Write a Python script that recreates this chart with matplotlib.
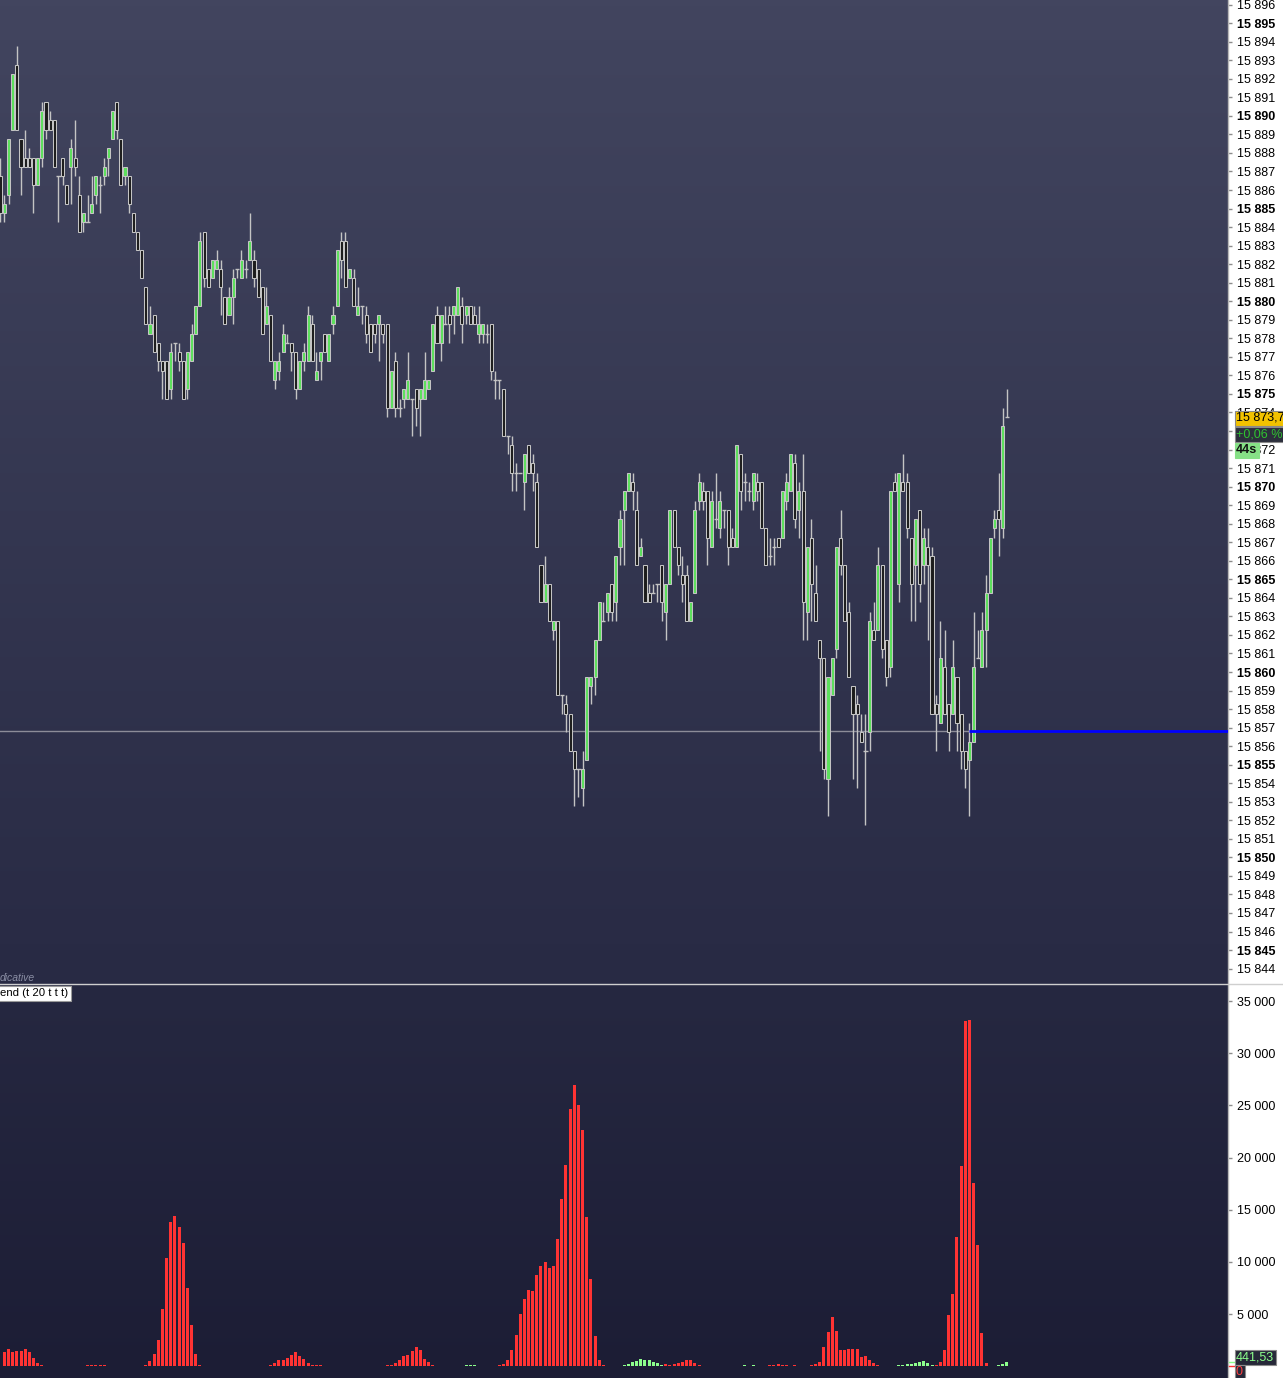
import numpy as np
import matplotlib
matplotlib.use("Agg")
import matplotlib.pyplot as plt
from matplotlib.colors import LinearSegmentedColormap
from matplotlib.patches import Rectangle
from matplotlib.lines import Line2D

# ---------------- data ----------------
opens = [
 15886.75,15884.75,15885.75,15889.25,15892.75,15888.75,15887.75,15887.75,15887.75,15886.25,
 15887.75,15890.75,15889.75,15889.75,15886.75,15887.75,15886.25,15887.25,15887.75,15885.75,
 15884.25,15884.25,15884.75,15885.75,15886.25,15886.75,15887.75,15888.75,15890.75,15888.75,
 15886.75,15886.75,15884.75,15883.75,15882.75,15880.75,15878.25,15879.25,15877.75,15876.75,
 15876.75,15875.25,15877.75,15877.25,15876.75,15875.25,15876.75,15878.25,15879.75,15883.75,
 15881.75,15881.25,15881.75,15881.75,15880.25,15879.25,15880.25,15881.75,15881.25,15881.75,
 15882.25,15882.25,15881.75,15880.75,15878.75,15879.25,15875.75,15876.25,15877.25,15877.75,
 15877.75,15877.25,15875.25,15876.75,15876.75,15878.75,15875.75,15876.75,15878.25,15876.75,
 15878.75,15879.75,15883.25,15883.25,15881.25,15881.25,15879.25,15879.75,15879.25,15878.75,
 15878.75,15878.75,15878.75,15878.75,15874.25,15876.75,15874.25,15874.75,15874.75,15874.75,
 15875.25,15874.75,15874.75,15875.25,15876.25,15879.25,15877.75,15878.75,15879.25,15879.25,
 15879.25,15879.75,15879.25,15879.75,15879.25,15878.25,15878.25,15878.25,15878.75,15875.75,
 15875.75,15875.25,15872.75,15872.25,15870.75,15870.75,15870.25,15872.25,15871.25,15870.25,
 15865.75,15863.75,15864.75,15862.25,15862.75,15858.75,15858.25,15857.75,15855.75,15854.75,
 15853.75,15855.25,15859.25,15859.75,15861.75,15862.75,15863.25,15864.75,15863.75,15866.75,
 15868.75,15869.75,15870.25,15868.75,15866.25,15865.75,15864.25,15864.25,15864.75,15865.75,
 15863.25,15864.75,15868.75,15866.75,15865.25,15865.25,15862.75,15864.25,15869.25,15869.75,
 15869.75,15866.75,15868.25,15867.75,15868.75,15868.75,15867.25,15866.75,15871.75,15870.25,
 15869.75,15869.25,15870.25,15870.25,15867.75,15866.25,15866.75,15867.25,15867.25,15869.25,
 15869.75,15871.25,15868.75,15869.75,15863.25,15867.25,15864.25,15861.75,15860.75,15854.25,
 15858.75,15861.25,15867.25,15865.75,15863.25,15859.25,15858.25,15856.75,15855.75,15856.75,
 15862.25,15862.25,15865.75,15861.75,15860.25,15870.25,15864.75,15870.25,15870.25,15867.25,
 15865.75,15868.75,15865.75,15866.75,15866.25,15858.25,15857.25,15860.25,15858.25,15857.75,
 15859.75,15857.75,15855.75,15855.25,15856.25,15860.75,15860.25,15862.25,15864.25,15867.75,
 15868.75,15867.75,15873.75]

highs = [
 15887.75,15885.75,15888.75,15892.25,15893.75,15888.75,15889.25,15888.25,15887.75,15887.75,
 15890.75,15890.75,15890.25,15889.75,15886.75,15887.75,15886.25,15888.75,15889.75,15886.75,
 15884.75,15885.75,15886.75,15886.75,15886.75,15887.75,15888.25,15890.25,15890.75,15888.75,
 15887.25,15886.75,15884.75,15883.75,15882.75,15880.75,15879.75,15879.25,15877.75,15876.75,
 15876.75,15877.75,15877.75,15877.75,15876.75,15877.25,15878.75,15879.75,15883.75,15883.75,
 15881.75,15882.25,15882.75,15882.25,15880.25,15880.75,15881.75,15881.75,15882.75,15882.25,
 15884.75,15882.75,15881.75,15880.75,15880.75,15879.25,15876.75,15877.25,15878.75,15878.25,
 15877.75,15877.25,15876.75,15877.75,15879.75,15879.25,15877.25,15877.25,15878.25,15878.25,
 15879.75,15882.75,15883.75,15883.75,15881.75,15881.75,15880.75,15879.75,15879.75,15878.75,
 15878.75,15879.25,15878.75,15878.75,15876.25,15877.25,15874.75,15875.25,15877.25,15874.75,
 15875.25,15875.25,15877.25,15875.75,15878.75,15879.75,15879.25,15879.75,15879.75,15879.75,
 15880.75,15880.25,15879.75,15879.75,15879.75,15879.75,15878.75,15878.75,15878.75,15876.25,
 15875.75,15875.25,15872.75,15872.75,15871.25,15870.75,15871.75,15872.25,15871.75,15870.75,
 15865.75,15866.25,15864.75,15862.75,15862.75,15858.75,15858.75,15857.75,15855.75,15854.75,
 15855.75,15859.75,15859.75,15861.75,15863.75,15863.75,15864.25,15864.75,15866.25,15868.75,
 15869.75,15870.75,15870.75,15869.75,15867.25,15865.75,15864.75,15864.75,15864.75,15865.75,
 15864.75,15868.75,15868.75,15866.75,15866.25,15865.75,15863.75,15869.25,15870.75,15870.25,
 15869.75,15869.75,15870.75,15869.75,15868.75,15868.75,15867.75,15872.25,15871.75,15870.75,
 15870.25,15870.75,15870.75,15870.25,15867.75,15867.25,15867.25,15867.25,15869.75,15870.75,
 15871.75,15871.75,15870.25,15871.75,15866.75,15868.25,15865.75,15861.75,15860.75,15859.75,
 15860.75,15866.75,15868.75,15865.75,15863.75,15859.25,15858.75,15857.75,15857.75,15863.25,
 15863.75,15866.75,15865.75,15861.75,15869.75,15870.75,15870.75,15871.75,15870.75,15867.25,
 15868.25,15868.75,15867.75,15867.75,15866.75,15858.75,15862.75,15862.25,15858.25,15861.75,
 15859.75,15857.75,15855.75,15857.25,15863.25,15862.25,15863.25,15865.25,15867.25,15868.75,
 15870.75,15874.25,15875.25]

lows = [
 15884.25,15884.25,15885.25,15889.25,15889.25,15885.75,15887.25,15887.25,15884.75,15886.25,
 15887.25,15888.75,15889.25,15887.25,15884.25,15886.25,15885.25,15885.25,15886.75,15883.75,
 15883.75,15884.25,15884.75,15885.25,15884.75,15886.25,15886.75,15888.75,15888.75,15886.25,
 15886.25,15884.75,15883.75,15882.75,15881.25,15878.75,15878.25,15877.25,15876.25,15874.75,
 15874.75,15874.75,15876.75,15876.25,15874.75,15874.75,15876.75,15878.25,15879.75,15880.75,
 15880.75,15881.25,15881.75,15879.25,15878.75,15879.25,15878.75,15881.25,15881.25,15881.25,
 15882.25,15880.75,15880.25,15878.25,15878.75,15876.75,15875.25,15875.75,15877.25,15877.75,
 15876.25,15874.75,15875.25,15876.25,15876.75,15876.75,15875.75,15875.75,15877.25,15876.75,
 15878.25,15879.75,15881.25,15880.75,15881.25,15879.75,15879.25,15878.75,15877.75,15877.25,
 15877.75,15876.75,15877.75,15873.75,15874.25,15873.75,15873.75,15874.25,15874.75,15872.75,
 15873.25,15872.75,15874.75,15875.25,15876.25,15877.75,15876.75,15878.75,15877.75,15878.25,
 15879.25,15877.75,15878.75,15878.75,15878.75,15877.75,15877.75,15877.75,15875.75,15874.75,
 15874.75,15872.75,15871.75,15869.75,15869.75,15870.75,15868.75,15870.75,15869.75,15866.75,
 15863.75,15863.75,15862.75,15861.75,15858.75,15857.75,15856.75,15855.75,15852.75,15853.25,
 15852.75,15855.25,15858.25,15858.75,15861.75,15862.75,15862.75,15862.75,15862.75,15865.75,
 15865.75,15869.75,15868.75,15865.75,15866.25,15863.75,15863.75,15864.25,15863.75,15862.75,
 15861.75,15864.75,15866.75,15865.25,15863.75,15862.75,15862.75,15864.25,15868.75,15868.75,
 15865.75,15866.75,15867.75,15867.25,15867.75,15865.75,15866.75,15866.75,15868.75,15869.25,
 15869.25,15868.75,15869.25,15867.75,15865.75,15865.75,15865.75,15866.75,15867.25,15868.75,
 15869.75,15867.75,15867.25,15861.75,15861.75,15862.75,15862.75,15855.75,15854.25,15852.25,
 15858.75,15860.75,15865.25,15862.75,15859.75,15854.25,15853.75,15856.25,15851.75,15855.75,
 15861.75,15862.25,15860.75,15859.25,15859.75,15869.75,15863.75,15869.75,15867.25,15862.75,
 15862.75,15863.75,15864.75,15861.75,15857.75,15855.75,15857.25,15857.75,15855.75,15857.75,
 15855.75,15854.75,15853.75,15852.25,15856.25,15860.75,15860.25,15860.25,15864.25,15867.25,
 15866.25,15867.25,15873.75]

closes = [
 15884.75,15885.25,15888.75,15892.25,15889.25,15887.25,15887.25,15887.25,15886.25,15887.75,
 15890.25,15889.25,15889.25,15887.25,15886.75,15886.75,15885.25,15888.25,15887.25,15883.75,
 15884.75,15884.25,15885.25,15886.75,15886.25,15887.25,15888.25,15890.25,15889.25,15886.25,
 15887.25,15885.25,15883.75,15882.75,15881.25,15878.75,15878.75,15877.25,15876.75,15876.25,
 15874.75,15877.25,15877.75,15876.75,15874.75,15877.25,15878.25,15879.75,15883.25,15881.25,
 15880.75,15882.25,15882.25,15880.75,15878.75,15880.25,15881.25,15881.75,15882.25,15881.75,
 15883.25,15881.25,15880.25,15878.25,15879.75,15876.75,15876.75,15876.75,15878.25,15877.75,
 15877.25,15875.25,15876.75,15877.25,15879.25,15876.75,15876.25,15877.25,15877.25,15878.25,
 15879.25,15882.75,15882.25,15880.75,15881.75,15879.75,15879.75,15879.75,15878.25,15877.25,
 15878.25,15879.25,15878.25,15874.25,15876.25,15874.25,15874.25,15875.25,15875.75,15874.75,
 15874.25,15875.25,15875.75,15875.75,15878.75,15877.75,15879.25,15878.75,15878.75,15879.75,
 15880.75,15878.75,15879.75,15878.75,15878.75,15878.75,15878.75,15878.25,15876.25,15875.75,
 15875.75,15872.75,15872.75,15870.75,15870.75,15870.75,15871.75,15870.75,15870.75,15866.75,
 15863.75,15864.75,15862.75,15862.75,15858.75,15858.75,15857.75,15855.75,15854.75,15854.75,
 15854.75,15859.75,15859.75,15861.75,15863.75,15862.75,15864.25,15863.25,15866.25,15868.25,
 15869.75,15870.75,15869.75,15865.75,15866.75,15863.75,15863.75,15864.25,15864.75,15863.75,
 15864.75,15868.75,15866.75,15865.75,15864.75,15862.75,15863.75,15868.75,15870.25,15869.25,
 15867.25,15869.25,15868.25,15869.25,15868.75,15866.75,15866.75,15872.25,15869.75,15870.25,
 15869.75,15870.75,15869.75,15867.75,15865.75,15866.25,15866.75,15866.75,15869.75,15870.25,
 15871.75,15868.25,15869.75,15863.75,15866.75,15864.75,15862.75,15860.75,15854.75,15859.75,
 15860.75,15866.75,15865.75,15862.75,15859.75,15857.75,15857.75,15856.25,15855.75,15862.75,
 15861.75,15865.75,15861.25,15859.75,15869.75,15869.75,15870.75,15869.75,15867.75,15864.75,
 15868.25,15864.75,15867.25,15865.75,15857.75,15857.75,15860.75,15857.75,15856.75,15860.25,
 15857.25,15855.75,15854.75,15856.25,15860.25,15860.75,15862.25,15864.25,15867.25,15868.25,
 15868.25,15873.25,15873.75]

# lower panel histogram (one value per candle)
hist_values = [
 0, 1340, 1630, 1340, 1440, 1440, 1630, 1340, 770, 290,
 100, 0, 0, 0, 0, 0, 0, 0, 0, 0,
 0, 80, 80, 80, 80, 80, 0, 0, 0, 0,
 0, 0, 0, 0, 0, 100, 480, 1150, 2490, 5460,
 10400, 13800, 14400, 13300, 11800, 7500, 3930, 1150, 100, 0,
 0, 0, 0, 0, 0, 0, 0, 0, 0, 0,
 0, 0, 0, 0, 0, 100, 290, 580, 580, 770,
 1050, 1340, 960, 670, 290, 100, 100, 100, 0, 0,
 0, 0, 0, 0, 0, 0, 0, 0, 0, 0,
 0, 0, 0, 100, 100, 290, 580, 960, 1050, 1440,
 1820, 1530, 670, 380, 100, 0, 0, 0, 0, 0,
 0, 0, 80, 80, 80, 0, 0, 0, 0, 0,
 100, 190, 580, 1530, 2970, 4980, 6420, 7280, 7190, 8720,
 9580, 9970, 9390, 9580, 12170, 16000, 19270, 24700, 27000, 25000,
 22600, 14300, 8340, 2880, 580, 100, 0, 0, 0, 0,
 100, 190, 380, 480, 670, 580, 580, 380, 290, 100,
 190, 100, 190, 290, 380, 580, 580, 290, 100, 0,
 0, 0, 0, 0, 0, 0, 0, 0, 0, 100,
 0, 100, 0, 0, 0, 100, 100, 190, 100, 100,
 0, 100, 0, 0, 0, 100, 190, 380, 1820, 3260,
 4700, 3350, 1530, 1530, 1630, 1630, 1630, 860, 960, 580,
 290, 100, 0, 0, 0, 0, 100, 100, 190, 190,
 290, 380, 480, 290, 100, 100, 380, 1530, 4890, 6900,
 12360, 19200, 33070, 33160, 17540, 11600, 3160, 290, 0, 0,
 100, 190, 441.53]
hist_green_idx = [112, 113, 114, 150, 151, 152, 153, 154, 155, 156, 157, 158, 159,
                  179, 181, 216, 217, 218, 219, 220, 221, 222, 223, 224, 240, 241, 242]

reference_level = 15856.8
blue_start_index = 233
price_ticks = list(range(15844, 15897))
volume_ticks = [5000, 10000, 15000, 20000, 25000, 30000, 35000]
last_price_label = "15 873,7"
change_label = "+0,06 %"
timer_label = "44s"
last_volume_label = "441,53"

# ---------------- figure ----------------
W, H = 1283, 1378
DPI = 100
plt.rcParams['font.family'] = ['Liberation Sans', 'DejaVu Sans']
fig = plt.figure(figsize=(W / DPI, H / DPI), dpi=DPI, facecolor='white')

def fx(px):
    return px / W

def fy(py):
    return 1 - py / H

PLOT_W = 1228
SEP = 984
ax_p = fig.add_axes([0, fy(SEP), fx(PLOT_W), SEP / H])
ax_v = fig.add_axes([0, 0, fx(PLOT_W), fy(SEP + 1)])

def gradient(ax, top, bottom):
    cmap = LinearSegmentedColormap.from_list('g', [top, bottom])
    arr = np.linspace(0, 1, 256)[:, None]
    ax.imshow(arr, extent=[0, 1, 0, 1], transform=ax.transAxes, cmap=cmap,
              aspect='auto', origin='upper', zorder=0, interpolation='bilinear')

gradient(ax_p, '#42455f', '#282a44')
gradient(ax_v, '#262841', '#1c1d35')

n = len(opens)
x = np.arange(n)
o = np.array(opens); h = np.array(highs); l = np.array(lows); c = np.array(closes)

edge = '#c4c4c4'
# wicks
ax_p.vlines(x, l, h, color=edge, lw=1.0, zorder=2)
up = c > o
dn = c < o
eq = c == o
BW = 0.74
ax_p.bar(x[up], (c - o)[up], bottom=o[up], width=BW, color='#5ce05c',
         edgecolor=edge, linewidth=0.75, zorder=3)
ax_p.bar(x[dn], (c - o)[dn], bottom=o[dn], width=BW, color='#1c1c1c',
         edgecolor=edge, linewidth=0.75, zorder=3)
ax_p.hlines(o[eq], x[eq] - 0.5, x[eq] + 0.5, color=edge, lw=1.0, zorder=3)

XMIN, XMAX = -0.05, 295.15
ax_p.set_xlim(XMIN, XMAX)
ax_p.set_ylim(15843.17, 15896.25)

# reference level lines
ax_p.axhline(reference_level, color='#8c8c98', lw=1.0, zorder=1)
ax_p.hlines(reference_level, blue_start_index - 0.2, XMAX, color='#0000ff', lw=2.0, zorder=4)

# volume histogram
hv = np.array(hist_values, dtype=float)
hcol = ['#8cff8c' if i in hist_green_idx else '#ff3333' for i in range(len(hv))]
mask = hv > 0
ax_v.bar(np.arange(len(hv))[mask], hv[mask], width=0.72,
         color=[hcol[i] for i in np.where(mask)[0]], zorder=3)
ax_v.set_xlim(XMIN, XMAX)
ax_v.set_ylim(-1130, 36550)

def fmt(v):
    return f"{v:,}".replace(",", " ")

for ax in (ax_p, ax_v):
    for s in ('top', 'left', 'bottom'):
        ax.spines[s].set_visible(False)
    ax.spines['right'].set_color('#b8b8b8')
    ax.spines['right'].set_linewidth(1.0)
    ax.set_xticks([])
    ax.yaxis.tick_right()
    ax.tick_params(axis='y', direction='out', length=3, width=1, color='#8c8c8c',
                   pad=3.2, labelsize=9, labelcolor='black')

ax_p.set_yticks(price_ticks)
ax_p.set_yticklabels([fmt(t) for t in price_ticks])
for lbl, t in zip(ax_p.get_yticklabels(), price_ticks):
    if t % 5 == 0:
        lbl.set_fontweight('bold')

ax_v.set_yticks(volume_ticks)
ax_v.set_yticklabels([fmt(t) for t in volume_ticks])

# separator line between panels
fig.add_artist(Line2D([0, 1], [fy(SEP), fy(SEP)], color='#cfcfcf', lw=1.0, zorder=10))

# right-side value labels
fig.text(fx(1236), fy(418), last_price_label, fontsize=9, color='black', va='center', ha='left',
         bbox=dict(boxstyle='square,pad=0.12', fc='#f2c200', ec='#8a8a8a', lw=0.8), zorder=20)
fig.text(fx(1236), fy(434.5), change_label, fontsize=9, color='#2fc22f', va='center', ha='left',
         bbox=dict(boxstyle='square,pad=0.12', fc='#2c2f3c', ec='#8a8a8a', lw=0.8), zorder=20)
fig.text(fx(1236), fy(450.5), timer_label, fontsize=9, color='#111111', fontweight='bold',
         va='center', ha='left',
         bbox=dict(boxstyle='square,pad=0.12', fc='#86e086', ec='#86e086', lw=0.8), zorder=21)

fig.text(fx(1236), fy(1357), last_volume_label, fontsize=9, color='#8cff8c', va='center', ha='left',
         bbox=dict(boxstyle='square,pad=0.12', fc='#262838', ec='#8a8a8a', lw=0.8), zorder=20)
fig.text(fx(1236), fy(1372), "0", fontsize=9, color='#ff4040', va='center', ha='left',
         bbox=dict(boxstyle='square,pad=0.12', fc='#262838', ec='#8a8a8a', lw=0.8), zorder=20)
fig.add_artist(Line2D([fx(1229), fx(1235)], [fy(1362), fy(1362)], color='#8cff8c', lw=1))
fig.add_artist(Line2D([fx(1229), fx(1235)], [fy(1366), fy(1366)], color='#ff3333', lw=1))

# indicator labels
fig.text(fx(0), fy(978), "dicative", fontsize=7.5, style='italic', color='#8a8ea4',
         va='center', ha='left', zorder=20)
fig.add_artist(Rectangle((fx(-2), fy(1001)), fx(73), (1001 - 986) / H, facecolor='white',
                         edgecolor='#9a9a9a', lw=0.8, zorder=19))
fig.text(fx(0.5), fy(993.5), "end (t 20 t t t)", fontsize=8.2, color='black',
         va='center', ha='left', zorder=20)

fig.savefig("out.png", dpi=DPI, facecolor='white')
